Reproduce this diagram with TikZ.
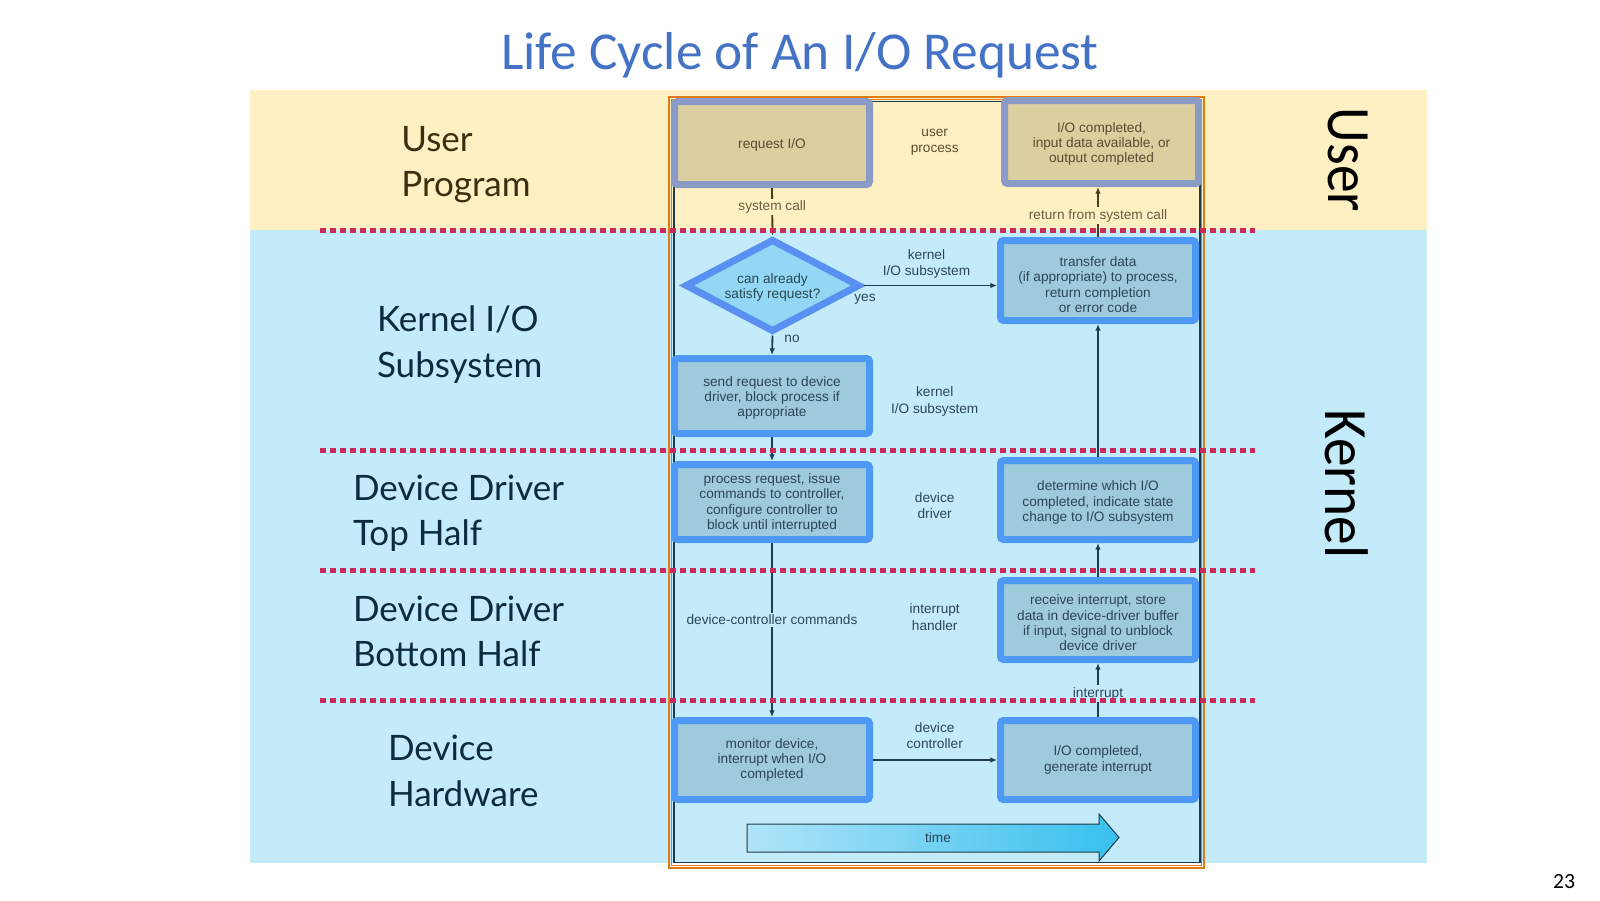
\documentclass[tikz,border=0pt]{standalone}
\usepackage{fontspec}
\usepackage{graphicx}
\usetikzlibrary{arrows.meta,shapes.geometric}
\newfontfamily\figfont{Liberation Sans}
\newfontfamily\lblfont{Lato}
\newfontfamily\calib{Carlito}
\newcommand\figtxt{\figfont\fontsize{8.2pt}{9.2pt}\selectfont}
\newcommand\midtxt{\figfont\fontsize{8.2pt}{9.8pt}\selectfont}
\definecolor{ubg}{HTML}{FEF0C3}
\definecolor{kbg}{HTML}{C3EBFA}
\definecolor{ubord}{HTML}{8A9CC5}
\definecolor{ufill}{HTML}{DBCFA1}
\definecolor{kbord}{HTML}{4E98F6}
\definecolor{kfill}{HTML}{9FCADB}
\definecolor{dbord}{HTML}{5A90F2}
\definecolor{dfill}{HTML}{92D7F4}
\definecolor{utext}{HTML}{5B4C2E}
\definecolor{ultext}{HTML}{6B5E40}
\definecolor{ktext}{HTML}{2A4757}
\definecolor{uline}{HTML}{4B3D1E}
\definecolor{kline}{HTML}{1E3D50}
\definecolor{frameor}{HTML}{E07A14}
\definecolor{framedk}{HTML}{1E3A4A}
\definecolor{dotred}{HTML}{C92B5B}
\definecolor{titleblue}{HTML}{4472C4}
\definecolor{ulbl}{HTML}{3A300E}
\definecolor{klbl}{HTML}{0C2B3E}
\definecolor{tleft}{HTML}{B0E4F8}
\definecolor{tright}{HTML}{38C0EE}
\tikzset{
  ubox/.style={draw=ubord, fill=ufill, line width=4.2pt, rounded corners=1.8pt, inner sep=0pt,
    align=center, text=utext, font=\figtxt, minimum width=117pt, minimum height=49.8pt},
  kbox/.style={draw=kbord, fill=kfill, line width=4.2pt, rounded corners=1.8pt, inner sep=0pt,
    align=center, text=ktext, font=\figtxt, minimum width=117pt},
  dia/.style={diamond, aspect=2, draw=dbord, fill=dfill, line width=4.2pt, inner sep=0pt,
    minimum width=105pt, minimum height=55.8pt, align=center, text=ktext, font=\figtxt},
  lower/.style={execute at begin node={\rule{0pt}{#1}}},
  uconn/.style={draw=uline, line width=1.1pt, -{Latex[length=4pt,width=3.4pt]}},
  kconn/.style={draw=kline, line width=1.1pt, -{Latex[length=4pt,width=3.4pt]}},
  ulab/.style={fill=ubg, text=ultext, font=\figtxt, inner sep=1.2pt, align=center},
  klab/.style={fill=kbg, text=ktext, font=\figtxt, inner sep=1.2pt, align=center},
  utxt/.style={text=utext, font=\midtxt, inner sep=0pt, align=center},
  ktxt/.style={text=ktext, font=\midtxt, inner sep=0pt, align=center},
  dotln/.style={draw=dotred, line width=3pt, dash pattern=on 3.6pt off 2.4pt},
  lbl/.style={font=\lblfont\fontsize{21pt}{25pt}\selectfont, inner sep=0pt, anchor=base west},
  side/.style={rotate=-90, anchor=base west, inner sep=0pt, text=black},
}
\begin{document}
\begin{tikzpicture}[x=0.6pt,y=-0.6pt]
\useasboundingbox (0,0) rectangle (1600,900);
\fill[white] (0,0) rectangle (1600,900);
% bands
\fill[ubg] (250,90) rectangle (1427,230);
\fill[kbg] (250,230) rectangle (1427,863);
% figure frame
\draw[frameor, line width=0.9pt] (669,97) rectangle (1204,868);
\draw[frameor, line width=0.5pt] (671.5,99.5) rectangle (1201.5,865.5);
\draw[framedk, line width=0.7pt] (674,101.5) rectangle (1200,862.5);
% boxes
\node[ubox, lower=8.4pt] (req) at (772,143) {request I/O};
\node[ubox, lower=26.8pt, minimum width=116.4pt] (done) at (1101.5,142) {I/O completed,\\ input data available, or\\ output completed};
\node[dia, lower=17.6pt] (dia) at (772.5,285.5) {can already\\ satisfy request?};
\node[kbox, lower=38.4pt, minimum height=48pt] (xfer) at (1098,280.5) {transfer data\\ (if appropriate) to process,\\ return completion\\ or error code};
\node[kbox, lower=26.8pt, minimum height=45pt] (send) at (772,396) {send request to device\\ driver, block process if\\ appropriate};
\node[kbox, lower=34.8pt, minimum height=45pt] (proc) at (772,502) {process request, issue\\ commands to controller,\\ configure controller to\\ block until interrupted};
\node[kbox, lower=27.4pt, minimum height=47.4pt] (det) at (1098,500) {determine which I/O\\ completed, indicate state\\ change to I/O subsystem};
\node[kbox, lower=37.2pt, minimum height=47.4pt] (recv) at (1098,620) {receive interrupt, store\\ data in device-driver buffer\\ if input, signal to unblock\\ device driver};
\node[kbox, minimum height=47.4pt] (mon) at (772,760) {monitor device,\\ interrupt when I/O\\ completed};
\node[kbox, minimum height=47.4pt] (gen) at (1098,760) {I/O completed,\\ generate interrupt};
% connectors
\draw[uconn] (req.south) -- node[pos=0.4, ulab] (lsys) {system call} (dia.north);
\draw[kconn] (dia.east) -- (dia.east -| xfer.west);
\draw[kconn] (dia.south) -- (send.north);
\draw[kconn] (send.south) -- (proc.north);
\draw[kconn] (proc.south) -- node[pos=0.44, klab] (ldcc) {device-controller commands} (mon.north);
\draw[kconn] (mon.east) -- (mon.east -| gen.west);
\draw[kconn] (gen.north) -- node[pos=0.43, klab] (lint) {interrupt} (recv.south);
\draw[kconn] (recv.north) -- (det.south);
\draw[kconn] (det.north) -- (xfer.south);
\draw[uconn] (xfer.north) -- node[pos=0.43, ulab] (lret) {return from system call} (xfer.north |- done.south);
% side texts of the figure
\node[ktxt] (lyes) at (865,299.5) {yes};
\node[ktxt] (lno) at (792,338.5) {no};
\node[utxt] (mup) at (934.7,142.5) {user\\ process};
\node[ktxt] (mk1) at (926.5,263.7) {kernel\\ I/O subsystem};
\node[ktxt] (mk2) at (934.7,401.5) {kernel\\ I/O subsystem};
\node[ktxt] (mdd) at (934.7,505.5) {device\\ driver};
\node[ktxt] (mih) at (934.7,617.2) {interrupt\\ handler};
\node[ktxt] (mdc) at (934.7,735.7) {device\\ controller};
% time arrow
\path[draw=framedk, line width=0.6pt, left color=tleft, right color=tright]
  (747,824) -- (1099,824) -- (1099,814) -- (1119,837.5) -- (1099,861) -- (1099,852) -- (747,852) -- cycle;
\node[ktxt] (timelbl) at (938,837.5) {time};
% dotted separators
\foreach \yy in {230,450,570,700} \draw[dotln] (320,\yy) -- (1255,\yy);
% left labels
\node[lbl, text=ulbl] (l1a) at (401,151) {User};
\node[lbl, text=ulbl] (l1b) at (401,196.7) {Program};
\node[lbl, text=klbl] (l2a) at (376.7,331.7) {Kernel I/O};
\node[lbl, text=klbl] (l2b) at (376.7,377) {Subsystem};
\node[lbl, text=klbl] (l3a) at (352.7,500) {Device Driver};
\node[lbl, text=klbl] (l3b) at (352.7,545.7) {Top Half};
\node[lbl, text=klbl] (l4a) at (352.7,621) {Device Driver};
\node[lbl, text=klbl] (l4b) at (352.7,666.7) {Bottom Half};
\node[lbl, text=klbl] (l5a) at (387.7,760.7) {Device};
\node[lbl, text=klbl] (l5b) at (387.7,806) {Hardware};
% right labels
\node[side] (rUser) at (1328,107.5) {\scalebox{0.9}[1]{\calib\fontsize{37pt}{40pt}\selectfont User}};
\node[side] (rKernel) at (1325,409) {\scalebox{0.93}[1]{\calib\fontsize{37pt}{40pt}\selectfont Kernel}};
% title and number
\node[anchor=base, inner sep=0pt, text=titleblue, font=\calib\fontsize{32pt}{38pt}\selectfont] (title) at (800,69) {Life Cycle of An I/O Request};
\node[anchor=base, inner sep=0pt, font=\calib\fontsize{13pt}{15pt}\selectfont] (pnum) at (1564,888) {23};
\end{tikzpicture}
\end{document}
